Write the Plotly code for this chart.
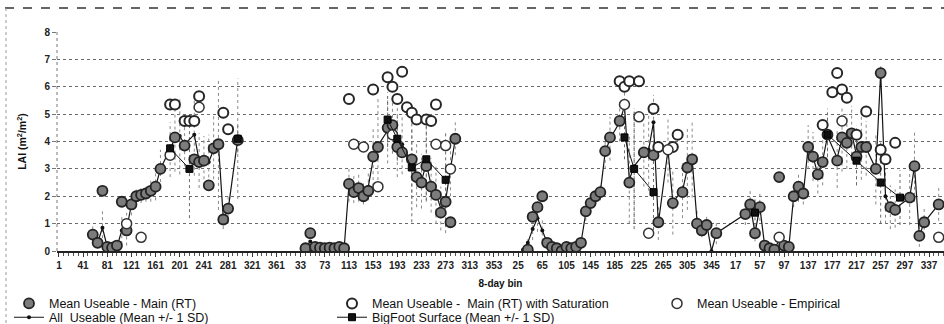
import plotly.graph_objects as go

# 8-day composite periods over four years (46 bins per year), numbered 0..183
tick_bins = list(range(0, 184, 5))
tick_labels = ["1", "41", "81", "121", "161", "201", "241", "281", "321", "361",
               "33", "73", "113", "153", "193", "233", "273", "313", "353",
               "25", "65", "105", "145", "185", "225", "265", "305", "345",
               "17", "57", "97", "137", "177", "217", "257", "297", "337"]

# Mean Useable - Main (RT)
main_bin = [7, 8, 9, 10, 11, 12, 13, 14, 15, 16, 17, 18, 19, 20, 21, 24, 26, 28, 29, 30, 31, 32, 33, 34, 35, 37,
            51, 52, 53, 54, 55, 56, 57, 58, 59, 60, 61, 62, 63, 64, 65, 66, 68, 69, 70, 71, 73, 74, 75, 76, 77, 78, 79, 80, 81, 82,
            97, 98, 99, 100, 101, 102, 103, 104, 105, 106, 107, 108, 109, 110, 111, 112, 113, 114, 116, 118, 121, 123, 124, 127,
            129, 130, 131, 132, 133, 134, 136,
            142, 143, 144, 145, 146, 147, 148, 149, 150, 151, 152, 153, 154, 155, 156, 157, 158, 159, 161, 162, 163, 164, 165,
            166, 167, 169, 170, 172, 173, 176, 177, 178, 179, 182]
main_lai = [0.6, 0.3, 2.2, 0.15, 0.12, 0.2, 1.8, 0.75, 1.7, 2.0, 2.05, 2.1, 2.2, 2.35, 3.0, 4.15, 3.85, 3.35, 3.25, 3.3, 2.4, 3.75, 3.9, 1.15, 1.55, 4.05,
            0.1, 0.65, 0.15, 0.12, 0.1, 0.12, 0.1, 0.15, 0.1, 2.45, 2.15, 2.3, 2.0, 2.2, 3.45, 3.8, 4.5, 4.6, 3.8, 3.6, 3.35, 2.7, 2.5, 3.1, 2.35, 2.05, 1.4, 1.8, 1.05, 4.1,
            0.05, 1.25, 1.6, 2.0, 0.3, 0.15, 0.1, 0.0, 0.15, 0.1, 0.15, 0.3, 1.45, 1.75, 2.0, 2.15, 3.65, 4.15, 4.75, 2.5, 3.6, 3.5, 1.05, 1.75,
            2.15, 3.05, 3.35, 1.0, 0.75, 0.95, 0.65,
            1.35, 1.7, 0.65, 1.6, 0.2, 0.1, 0.05, 2.7, 0.2, 0.15, 2.0, 2.35, 2.1, 3.8, 3.45, 2.8, 3.25, 4.25, 3.3, 4.15, 3.95, 4.3, 3.45,
            3.8, 3.8, 3.0, 6.5, 1.6, 1.5, 1.95, 3.1, 0.55, 1.05, 1.7]

# Mean Useable - Main (RT) with Saturation
sat_bin = [23, 24, 26, 27, 28, 29, 34, 35,
           60, 65, 68, 69, 70, 71, 72, 73, 74, 76, 77, 78,
           116, 117, 118, 120, 123, 124, 127, 128,
           158, 160, 161, 162, 163, 165, 167, 170, 171, 173]
sat_lai = [5.35, 5.35, 4.75, 4.75, 4.75, 5.65, 5.05, 4.45,
           5.55, 5.9, 6.35, 6.0, 5.55, 6.55, 5.25, 5.05, 4.8, 4.8, 4.75, 5.35,
           6.2, 6.0, 6.2, 6.2, 5.2, 3.8, 3.8, 4.25,
           4.6, 5.8, 6.5, 5.9, 5.6, 4.25, 5.1, 3.7, 3.35, 3.95]

# Mean Useable - Empirical
emp_bin = [14, 17, 23, 29,
           61, 63, 66, 69, 78, 80, 81,
           117, 120, 122, 126,
           149, 162, 182]
emp_lai = [1.0, 0.5, 3.5, 5.25,
           3.9, 3.8, 2.35, 4.25, 3.9, 3.85, 3.0,
           5.35, 4.9, 0.65, 3.7,
           0.5, 4.75, 0.5]

# All Useable (mean and 1 SD)
all_bin = [7, 8, 9, 10, 11, 12, 13, 14, 15, 16, 17, 18, 19, 20, 21, 23, 24, 25, 26, 28, 29, 30, 31, 32, 33, 34, 35, 37,
           51, 52, 53, 54, 55, 56, 57, 58, 59, 60, 61, 62, 63, 64, 65, 66, 68, 69, 70, 71, 73, 74, 75, 76, 77, 78, 79, 80, 81, 82,
           96, 97, 98, 99, 100, 101, 102, 103, 104, 105, 106, 107, 108, 109, 110, 111, 112, 113, 114, 116, 117, 118, 119,
           121, 122, 123, 124, 126, 127, 129, 130, 131, 132, 133, 134, 135, 136,
           142, 143, 144, 145, 146, 147, 148, 149, 150, 151, 152, 153, 154, 155, 156, 157, 158, 159, 161, 162, 163, 164,
           165, 166, 167, 169, 170, 171, 172, 173, 176, 177, 178, 179, 182]
all_lai = [0.65, 0.3, 0.85, 0.15, 0.12, 0.15, 0.75, 0.8, 1.7, 2.0, 2.05, 2.1, 2.2, 2.35, 3.0, 3.7, 4.1, 4.2, 3.9, 4.25, 3.3, 3.3, 3.25, 3.7, 3.9, 1.2, 1.5, 4.1,
           0.1, 0.35, 0.15, 0.1, 0.1, 0.12, 0.1, 0.1, 0.1, 2.4, 2.25, 2.3, 2.1, 2.35, 3.35, 3.85, 4.4, 4.55, 4.0, 3.9, 3.2, 2.8, 2.55, 3.2, 2.4, 2.1, 1.55, 1.85, 3.0, 4.1,
           0.05, 0.3, 0.8, 1.2, 0.75, 0.3, 0.1, 0.1, 0.0, 0.15, 0.1, 0.15, 0.3, 1.4, 1.7, 1.95, 2.15, 3.6, 4.1, 4.7, 5.3, 2.6, 3.1,
           3.55, 3.7, 4.7, 1.0, 3.7, 1.8, 2.2, 3.0, 3.35, 1.1, 0.8, 1.0, 0.0, 0.65,
           1.35, 1.7, 0.65, 1.6, 0.2, 0.1, 0.05, 0.4, 0.2, 0.15, 2.0, 2.3, 2.1, 3.8, 3.45, 2.8, 3.3, 4.2, 3.4, 4.1, 4.0, 4.3,
           3.5, 3.8, 3.75, 3.0, 6.5, 2.0, 1.6, 1.55, 1.95, 3.1, 0.55, 1.05, 1.7]
all_sd = [0.3, 0.2, 0.6, 0.1, 0.1, 0.1, 0.5, 0.6, 0.4, 0.3, 0.3, 0.3, 0.4, 0.5, 0.7, 1.0, 1.2, 1.4, 0.8, 1.5, 1.0, 0.9, 1.0, 1.3, 2.4, 0.4, 0.5, 2.2,
          0.1, 0.3, 0.1, 0.1, 0.1, 0.1, 0.1, 0.1, 0.1, 0.6, 0.5, 0.5, 0.4, 0.5, 1.2, 1.7, 1.2, 1.0, 1.3, 1.1, 1.3, 1.2, 1.0, 1.4, 1.0, 1.1, 0.8, 1.2, 1.0, 0.6,
          0.05, 0.2, 0.4, 0.5, 0.4, 0.2, 0.1, 0.1, 0.1, 0.1, 0.1, 0.1, 0.1, 0.3, 0.3, 0.3, 0.3, 0.6, 0.8, 0.7, 0.5, 1.6, 2.0,
          1.2, 1.5, 1.0, 0.6, 1.2, 1.2, 1.0, 1.5, 1.4, 0.4, 0.3, 0.3, 0.0, 0.4,
          0.4, 0.5, 0.3, 0.5, 0.1, 0.1, 0.1, 0.3, 0.1, 0.1, 0.4, 0.5, 0.4, 0.8, 0.9, 0.7, 0.9, 1.0, 1.1, 1.2, 1.0, 1.0,
          1.1, 1.2, 1.0, 1.3, 0.3, 1.0, 0.8, 0.7, 1.0, 1.3, 0.4, 0.5, 0.6]

# BigFoot Surface (mean and 1 SD)
bf_bin = [23, 27, 37, 68, 70, 73, 76, 80, 117, 119, 123, 144, 159, 165, 170, 174]
bf_lai = [3.75, 3.0, 4.1, 4.8, 4.1, 3.05, 3.35, 2.6, 4.15, 3.0, 2.15, 1.4, 4.25, 3.3, 2.5, 1.95]
bf_sd = [0.4, 1.8, 0.5, 1.0, 0.8, 2.0, 1.5, 1.7, 0.8, 2.2, 1.6, 0.5, 0.8, 0.9, 1.5, 1.0]

FONT = "Liberation Sans, Arial, sans-serif"
W, H = 944, 324
ML, MR, MT, MB = 57, 0, 32, 72.5


def with_breaks(bins, vals, max_gap=6):
    """Insert None between points that are far apart so the line breaks."""
    xs, ys, prev = [], [], None
    for b, v in zip(bins, vals):
        if prev is not None and b - prev > max_gap:
            xs.append(None)
            ys.append(None)
        xs.append(b)
        ys.append(v)
        prev = b
    return xs, ys


def sd_segments(bins, means, sds):
    xs, ys = [], []
    for b, m, s in zip(bins, means, sds):
        xs += [b, b, None]
        ys += [m - s, m + s, None]
    return xs, ys


def px_x(px):
    return (px - ML) / (W - ML - MR)


def px_y(py):
    return (H - MB - py) / (H - MB - MT)


fig = go.Figure()

ex, ey = sd_segments(all_bin, all_lai, all_sd)
fig.add_trace(go.Scatter(x=ex, y=ey, mode="lines", showlegend=False, hoverinfo="skip",
                         line=dict(color="#8a8a8a", width=1, dash="dot")))
bx, by = sd_segments(bf_bin, bf_lai, bf_sd)
fig.add_trace(go.Scatter(x=bx, y=by, mode="lines", showlegend=False, hoverinfo="skip",
                         line=dict(color="#6a6a6a", width=1, dash="dot")))

ax, ay = with_breaks(all_bin, all_lai)
fig.add_trace(go.Scatter(x=ax, y=ay, mode="lines+markers", name="All  Useable (Mean +/- 1 SD)",
                         legend="legend2",
                         line=dict(color="#151515", width=1.2),
                         marker=dict(symbol="circle", size=4, color="#111")))

fig.add_trace(go.Scatter(x=main_bin, y=main_lai, mode="markers", name="Mean Useable - Main (RT)",
                         marker=dict(symbol="circle", size=10, color="#7c7c7c",
                                     line=dict(color="#222", width=1.8))))
fig.add_trace(go.Scatter(x=sat_bin, y=sat_lai, mode="markers", name="Mean Useable -  Main (RT) with Saturation",
                         marker=dict(symbol="circle", size=10, color="#ffffff",
                                     line=dict(color="#262626", width=2))))
fig.add_trace(go.Scatter(x=emp_bin, y=emp_lai, mode="markers", name="Mean Useable - Empirical",
                         legend="legend3",
                         marker=dict(symbol="circle", size=10, color="#ffffff",
                                     line=dict(color="#333", width=1.5))))

fx, fy = with_breaks(bf_bin, bf_lai)
fig.add_trace(go.Scatter(x=fx, y=fy, mode="lines+markers", name="BigFoot Surface (Mean +/- 1 SD)",
                         legend="legend2",
                         line=dict(color="#111", width=1),
                         marker=dict(symbol="square", size=7, color="#111",
                                     line=dict(color="#000", width=1))))

legend_common = dict(orientation="h", xref="container", yref="container",
                     xanchor="left", yanchor="middle", entrywidth=278, entrywidthmode="pixels",
                     itemwidth=30, bgcolor="rgba(0,0,0,0)", borderwidth=0,
                     font=dict(family=FONT, size=12.5, color="#111"))

fig.update_layout(
    width=W, height=H,
    margin=dict(l=ML, r=MR, t=MT, b=MB, autoexpand=False),
    paper_bgcolor="white", plot_bgcolor="white",
    font=dict(family=FONT, color="#222"),
    legend=dict(x=9 / W, y=(H - 303.8) / H, **legend_common),
    legend2=dict(x=9 / W, y=(H - 317.6) / H, **legend_common),
    legend3=dict(x=657 / W, y=(H - 303.8) / H, **legend_common),
    xaxis=dict(
        range=[-0.4, 183.1], tickmode="array", tickvals=tick_bins, ticktext=tick_labels,
        ticks="outside", ticklen=4, tickcolor="#333", tickwidth=1,
        minor=dict(tickmode="linear", tick0=0, dtick=1, ticks="outside", ticklen=3, tickcolor="#555"),
        showline=True, linecolor="#222", linewidth=1.5, showgrid=False, zeroline=False,
        tickfont=dict(family=FONT, size=10, color="#222", weight="bold"),
        automargin=True,
        title=dict(text="8-day bin", standoff=11, font=dict(family=FONT, size=10, color="#111", weight="bold")),
    ),
    yaxis=dict(
        range=[0, 8], dtick=1, showgrid=True, gridcolor="#6a6a6a", gridwidth=1, griddash="dot",
        zeroline=False, showline=False, ticks="outside", ticklen=4, tickcolor="#777",
        tickfont=dict(family=FONT, size=10, color="#222", weight="bold"),
        title=dict(text="LAI (m<sup>2</sup>/m<sup>2</sup>)",
                   font=dict(family=FONT, size=10.5, color="#111", weight="bold")),
    ),
    shapes=[
        # dotted value axis
        dict(type="line", xref="paper", yref="paper", x0=0, x1=0, y0=0, y1=px_y(29),
             line=dict(color="#777", width=1, dash="dot")),
        # outer frame: dashed top edge and dotted left edge
        dict(type="line", xref="paper", yref="paper", x0=px_x(5), x1=px_x(944), y0=px_y(8), y1=px_y(8),
             line=dict(color="#333", width=1.5, dash="dash")),
        dict(type="line", xref="paper", yref="paper", x0=px_x(6), x1=px_x(6), y0=px_y(8), y1=px_y(324),
             line=dict(color="#999", width=1, dash="dot")),
    ],
)

fig.write_html("out.html")
